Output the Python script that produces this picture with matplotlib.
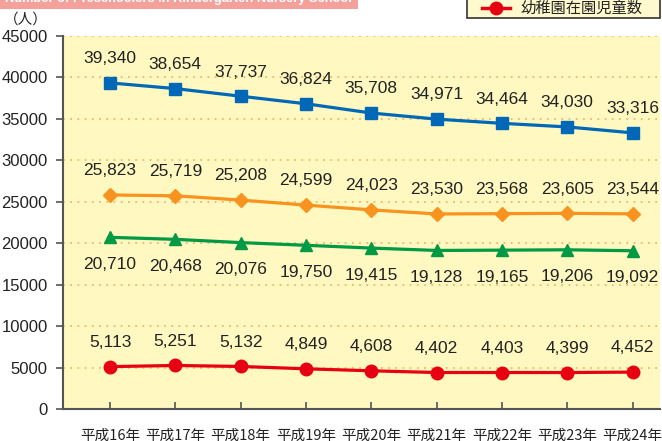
import matplotlib
matplotlib.use("Agg")
import matplotlib.pyplot as plt
from matplotlib.patches import Rectangle
from matplotlib.lines import Line2D

plt.rcParams['font.family'] = ['Liberation Sans', 'Noto Sans CJK JP', 'DejaVu Sans']

years = ["平成16年", "平成17年", "平成18年", "平成19年", "平成20年",
         "平成21年", "平成22年", "平成23年", "平成24年"]
blue_vals = [39340, 38654, 37737, 36824, 35708, 34971, 34464, 34030, 33316]
orange_vals = [25823, 25719, 25208, 24599, 24023, 23530, 23568, 23605, 23544]
green_vals = [20710, 20468, 20076, 19750, 19415, 19128, 19165, 19206, 19092]
red_vals = [5113, 5251, 5132, 4849, 4608, 4402, 4403, 4399, 4452]
y_ticks = [0, 5000, 10000, 15000, 20000, 25000, 30000, 35000, 40000, 45000]
title_text = "Number of Preschoolers in Kindergarten Nursery School"
legend_text = "幼稚園在園児童数"
unit_text = "（人）"

W, H = 662, 441
fig = plt.figure(figsize=(W / 100, H / 100), dpi=100)
ax = fig.add_axes([63 / W, 1 - 409 / H, (660 - 63) / W, (409 - 36) / H])
ax.set_facecolor('#FFF8C0')

x = list(range(len(years)))
series = [
    (blue_vals, '#0068B7', 's', 9, 'above'),
    (orange_vals, '#F7931E', 'D', 7, 'above'),
    (green_vals, '#009944', '^', 9, 'below'),
    (red_vals, '#E60012', 'o', 9, 'above'),
]
for vals, col, mk, ms, pos in series:
    ax.plot(x, vals, color=col, lw=2.3, marker=mk, ms=ms, zorder=3, clip_on=False)
    for xi, v in zip(x, vals):
        if pos == 'above':
            ax.annotate(f"{v:,}", (xi, v), xytext=(0, 12), textcoords='offset points',
                        ha='center', va='bottom', fontsize=12.5, color='#222222')
        else:
            ax.annotate(f"{v:,}", (xi, v), xytext=(0, -14), textcoords='offset points',
                        ha='center', va='top', fontsize=12.5, color='#222222')

ax.set_xlim(-0.72, 8.42)
ax.set_ylim(0, 45000)
ax.set_yticks(y_ticks)
ax.set_yticklabels([str(t) for t in y_ticks], fontsize=12, color='#222222')
ax.set_xticks(x)
ax.set_xticklabels(years, fontsize=10.5, color='#222222', family=['Noto Sans CJK JP'])
ax.tick_params(axis='x', direction='in', length=5, width=1.2, color='#555555', pad=14)
ax.tick_params(axis='y', direction='out', length=5, width=1.2, color='#555555', pad=6)
for t in y_ticks[1:]:
    ax.axhline(t, color='#F5B56A', lw=1.3, ls=(0, (1, 3)), zorder=1)
for s in ['top', 'right']:
    ax.spines[s].set_visible(False)
for s in ['left', 'bottom']:
    ax.spines[s].set_color('#555555')
    ax.spines[s].set_linewidth(1.5)

# title banner (cut off at top, as in the reference)
fig.patches.append(Rectangle((0, 1 - 9 / H), 358 / W, 9 / H, transform=fig.transFigure,
                             facecolor='#F4A19B', edgecolor='none'))
fig.text(178 / W, 1 + 1 / H, title_text, ha='center', va='center', fontsize=9.3,
         fontweight='bold', color='white')

# legend box
fig.patches.append(Rectangle((467 / W, 1 - 18 / H), 193 / W, 22 / H, transform=fig.transFigure,
                             facecolor='#FFFACD', edgecolor='#333333', lw=1.2))
fig.lines.append(Line2D([482 / W, 510 / W], [1 - 8 / H, 1 - 8 / H], transform=fig.transFigure,
                        color='#E60012', lw=2.5, marker=None))
fig.lines.append(Line2D([496 / W], [1 - 8 / H], transform=fig.transFigure,
                        color='#E60012', marker='o', ms=9))
fig.text(521 / W, 1 - 8 / H, legend_text, ha='left', va='center', fontsize=11,
         color='#222222', family=['Noto Sans CJK JP'])

fig.text(4 / W, 1 - 20 / H, unit_text, ha='left', va='center', fontsize=10.5,
         color='#222222', family=['Noto Sans CJK JP'])

fig.savefig('out.png', dpi=100)
